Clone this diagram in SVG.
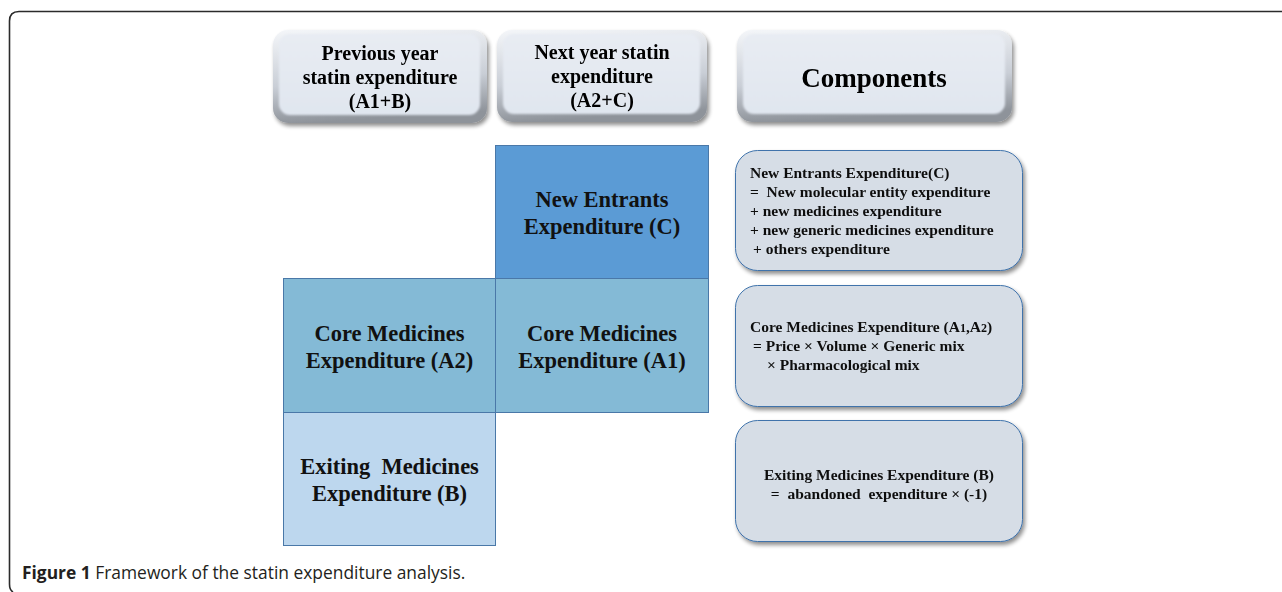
<svg xmlns="http://www.w3.org/2000/svg" width="1282" height="592" viewBox="0 0 1282 592">
  <defs>
    <linearGradient id="bevel" x1="0" y1="0" x2="0.15" y2="1">
      <stop offset="0" stop-color="#f4f6f9"/>
      <stop offset="0.6" stop-color="#c9ced6"/>
      <stop offset="1" stop-color="#8e939a"/>
    </linearGradient>
    <linearGradient id="face" x1="0" y1="0" x2="0" y2="1">
      <stop offset="0" stop-color="#e8ecf3"/>
      <stop offset="1" stop-color="#e0e6ef"/>
    </linearGradient>
    <filter id="shadow" x="-10%" y="-10%" width="125%" height="130%">
      <feGaussianBlur in="SourceAlpha" stdDeviation="2"/>
      <feOffset dx="2" dy="3" result="b"/>
      <feComponentTransfer><feFuncA type="linear" slope="0.45"/></feComponentTransfer>
      <feMerge><feMergeNode/><feMergeNode in="SourceGraphic"/></feMerge>
    </filter>
    <filter id="soft" x="-5%" y="-5%" width="110%" height="110%">
      <feGaussianBlur stdDeviation="1.2"/>
    </filter>
  </defs>
  <style>
    .hdr { font-family: "Liberation Serif", "Times New Roman", serif; font-weight: bold; font-size: 20px; fill: #000; text-anchor: middle; }
    .big { font-family: "Liberation Serif", "Times New Roman", serif; font-weight: bold; font-size: 27px; fill: #000; text-anchor: middle; }
    .sq { font-family: "Liberation Serif", "Times New Roman", serif; font-weight: bold; font-size: 22.5px; fill: #111; text-anchor: middle; }
    .cmp { font-family: "Liberation Serif", "Times New Roman", serif; font-weight: bold; font-size: 15.5px; fill: #111; }
    .cell { stroke: #4a78a8; stroke-width: 1; }
    .cbox { fill: #d6dde6; stroke: #3f73ab; stroke-width: 1; }
    .cap { font-family: "Open Sans", "Noto Sans", sans-serif; font-size: 17.4px; fill: #231f20; }
  </style>

  <rect x="0" y="0" width="1282" height="592" fill="#ffffff"/>

  <!-- outer frame -->
  <path d="M1282,11.5 H19 Q9.5,11.5 9.5,21 V584 Q9.5,590 13,592" fill="none" stroke="#2b2b2b" stroke-width="1.6"/>

  <!-- header boxes -->
  <g id="hdr-prev" filter="url(#shadow)">
    <rect x="273" y="30" width="214" height="93" rx="15" fill="url(#bevel)"/>
    <rect x="279" y="34" width="201" height="81" rx="11" fill="url(#face)" filter="url(#soft)"/>
    <text class="hdr" x="380" y="60">Previous year</text>
    <text class="hdr" x="380" y="84">statin expenditure</text>
    <text class="hdr" x="380" y="108">(A1+B)</text>
  </g>
  <g id="hdr-next" filter="url(#shadow)">
    <rect x="497" y="30" width="210" height="92" rx="15" fill="url(#bevel)"/>
    <rect x="503" y="34" width="197" height="80" rx="11" fill="url(#face)" filter="url(#soft)"/>
    <text class="hdr" x="602" y="59">Next year statin</text>
    <text class="hdr" x="602" y="83">expenditure</text>
    <text class="hdr" x="602" y="107">(A2+C)</text>
  </g>
  <g id="hdr-components" filter="url(#shadow)">
    <rect x="737" y="30" width="275" height="92" rx="15" fill="url(#bevel)"/>
    <rect x="743" y="34" width="262" height="80" rx="11" fill="url(#face)" filter="url(#soft)"/>
    <text class="big" x="874" y="87">Components</text>
  </g>

  <!-- squares -->
  <g id="sq-new-entrants">
    <rect class="cell" x="495.5" y="145.5" width="213" height="133" fill="#5b9bd5"/>
    <text class="sq" x="602" y="207">New Entrants</text>
    <text class="sq" x="602" y="234">Expenditure (C)</text>
  </g>
  <g id="sq-core-a2">
    <rect class="cell" x="283.5" y="278.5" width="212" height="134" fill="#84bad6"/>
    <text class="sq" x="389.5" y="341">Core Medicines</text>
    <text class="sq" x="389.5" y="368">Expenditure (A2)</text>
  </g>
  <g id="sq-core-a1">
    <rect class="cell" x="495.5" y="278.5" width="213" height="134" fill="#84bad6"/>
    <text class="sq" x="602" y="341">Core Medicines</text>
    <text class="sq" x="602" y="368">Expenditure (A1)</text>
  </g>
  <g id="sq-exiting">
    <rect class="cell" x="283.5" y="412.5" width="212" height="133" fill="#bdd7ee"/>
    <text class="sq" x="389.5" y="474" xml:space="preserve">Exiting  Medicines</text>
    <text class="sq" x="389.5" y="501">Expenditure (B)</text>
  </g>

  <!-- component boxes -->
  <g id="cmp-new-entrants" filter="url(#shadow)">
    <rect class="cbox" x="735.5" y="150.5" width="287" height="120" rx="22"/>
    <text class="cmp" x="750" y="178">New Entrants Expenditure(C)</text>
    <text class="cmp" x="750" y="197" xml:space="preserve">=  New molecular entity expenditure</text>
    <text class="cmp" x="750" y="216">+ new medicines expenditure</text>
    <text class="cmp" x="750" y="235">+ new generic medicines expenditure</text>
    <text class="cmp" x="753" y="254">+ others expenditure</text>
  </g>
  <g id="cmp-core" filter="url(#shadow)">
    <rect class="cbox" x="735.5" y="285.5" width="287" height="121" rx="22"/>
    <text class="cmp" x="750" y="332">Core Medicines Expenditure (A<tspan font-size="12px">1</tspan>,A<tspan font-size="12px">2</tspan>)</text>
    <text class="cmp" x="753" y="351">= Price × Volume × Generic mix</text>
    <text class="cmp" x="767" y="370">× Pharmacological mix</text>
  </g>
  <g id="cmp-exiting" filter="url(#shadow)">
    <rect class="cbox" x="735.5" y="420.5" width="287" height="121" rx="22"/>
    <text class="cmp" x="879" y="480" text-anchor="middle">Exiting Medicines Expenditure (B)</text>
    <text class="cmp" x="879" y="499" text-anchor="middle" xml:space="preserve">=  abandoned  expenditure × (-1)</text>
  </g>

  <g id="connectors"></g>

  <!-- caption -->
  <text class="cap" x="22" y="579"><tspan font-weight="bold">Figure 1</tspan> Framework of the statin expenditure analysis.</text>
</svg>
